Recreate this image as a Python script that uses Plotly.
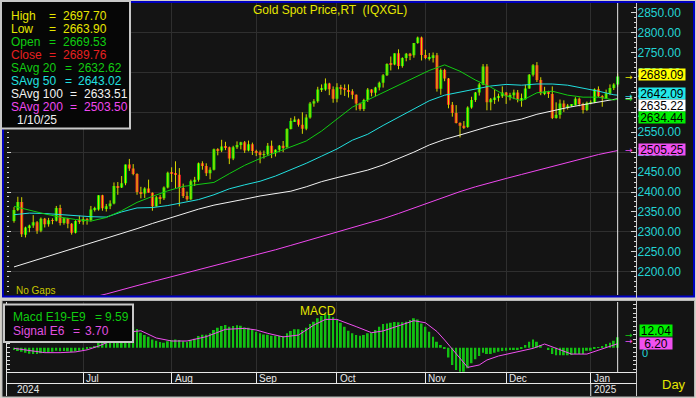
import plotly.graph_objects as go
import pandas as pd

W, H = 696, 398
FONT = "Liberation Sans, Arial, sans-serif"

# ---------------- data ----------------
dates = pd.bdate_range("2024-06-05", "2025-01-10")

opens = [2327, 2355, 2375, 2293, 2311, 2316, 2324, 2303, 2333, 2319, 2329, 2328, 2360, 2322, 2334, 2320, 2298, 2327,
         2326, 2332, 2330, 2356, 2356, 2392, 2359, 2364, 2371, 2415, 2411, 2422, 2469, 2459, 2445, 2400, 2396, 2409, 2398, 2364, 2387, 2384, 2411,
         2448, 2446, 2443, 2410, 2390, 2382, 2427, 2431, 2472, 2465, 2447, 2456, 2507, 2504, 2514, 2512, 2484, 2512, 2518, 2525, 2504, 2520,
         2503, 2500, 2493, 2495, 2516, 2497, 2506, 2516, 2512, 2558, 2578, 2582, 2569, 2559, 2587, 2622, 2628, 2657, 2657, 2672, 2658,
         2634, 2663, 2659, 2656, 2653, 2644, 2622, 2608, 2631, 2657, 2649, 2662, 2674, 2693, 2721, 2720, 2748, 2716, 2736, 2747, 2743, 2774, 2788,
         2744, 2736, 2736, 2743, 2659, 2706, 2685, 2619, 2598, 2573, 2566, 2563, 2612, 2631, 2650, 2670, 2715, 2625, 2633, 2637, 2640,
         2650, 2640, 2643, 2650, 2632, 2633, 2660, 2694, 2718, 2681, 2648, 2652, 2646, 2586, 2594, 2622, 2612, 2617, 2618, 2634, 2621, 2606,
         2624, 2625, 2658, 2640, 2636, 2648, 2661, 2669.53]

highs = [2362, 2388, 2387, 2313, 2318, 2342, 2327, 2336, 2335, 2335, 2334, 2365, 2368, 2335, 2335, 2322, 2329, 2340,
         2338, 2335, 2365, 2363, 2392, 2393, 2370, 2379, 2424, 2425, 2440, 2469, 2483, 2470, 2447, 2413, 2412, 2431, 2399, 2390, 2393, 2414, 2451,
         2462, 2477, 2460, 2421, 2401, 2431, 2438, 2474, 2477, 2472, 2462, 2509, 2510, 2531, 2526, 2514, 2516, 2527, 2526, 2528, 2529, 2524,
         2506, 2504, 2504, 2523, 2529, 2507, 2518, 2528, 2560, 2586, 2590, 2584, 2600, 2595, 2626, 2633, 2664, 2670, 2685, 2674, 2665,
         2673, 2669, 2670, 2670, 2658, 2645, 2624, 2634, 2661, 2658, 2664, 2677, 2696, 2723, 2740, 2748, 2758, 2738, 2749, 2749, 2774, 2790, 2790,
         2757, 2749, 2750, 2749, 2710, 2709, 2686, 2626, 2618, 2575, 2578, 2615, 2639, 2651, 2674, 2721, 2721, 2636, 2657, 2647, 2665,
         2651, 2649, 2657, 2656, 2647, 2669, 2696, 2721, 2726, 2688, 2664, 2654, 2665, 2625, 2632, 2630, 2621, 2620, 2638, 2637, 2624, 2627,
         2630, 2660, 2665, 2643, 2657, 2670, 2673, 2697.70]

lows = [2323, 2352, 2287, 2286, 2299, 2310, 2295, 2299, 2311, 2313, 2319, 2326, 2316, 2318, 2309, 2293, 2296, 2320,
        2318, 2318, 2326, 2351, 2353, 2353, 2351, 2357, 2369, 2393, 2410, 2417, 2453, 2442, 2393, 2384, 2385, 2398, 2353, 2363, 2370, 2380, 2409,
        2425, 2410, 2364, 2385, 2378, 2380, 2415, 2426, 2456, 2440, 2432, 2454, 2492, 2500, 2505, 2470, 2480, 2508, 2507, 2498, 2502, 2493,
        2490, 2472, 2484, 2491, 2485, 2489, 2500, 2500, 2511, 2557, 2576, 2564, 2546, 2555, 2584, 2614, 2624, 2651, 2654, 2643, 2624,
        2625, 2644, 2641, 2637, 2633, 2605, 2604, 2603, 2626, 2640, 2640, 2655, 2662, 2691, 2705, 2718, 2708, 2712, 2728, 2731, 2737, 2772, 2730,
        2733, 2730, 2725, 2652, 2644, 2678, 2610, 2589, 2572, 2537, 2558, 2561, 2609, 2626, 2642, 2668, 2605, 2605, 2621, 2627, 2636,
        2621, 2630, 2633, 2625, 2614, 2632, 2659, 2690, 2676, 2643, 2643, 2636, 2583, 2584, 2584, 2601, 2607, 2614, 2617, 2615, 2597, 2603,
        2620, 2623, 2638, 2614, 2633, 2643, 2656, 2663.90]

closes = [2355, 2375, 2294, 2311, 2316, 2324, 2303, 2333, 2319, 2329, 2328, 2360, 2322, 2334, 2320, 2298, 2327, 2326,
          2332, 2330, 2356, 2356, 2392, 2359, 2364, 2371, 2415, 2411, 2422, 2469, 2459, 2445, 2400, 2396, 2409, 2398, 2364, 2387, 2384, 2411, 2448,
          2446, 2443, 2410, 2390, 2382, 2427, 2431, 2472, 2465, 2447, 2456, 2507, 2504, 2514, 2512, 2484, 2512, 2518, 2525, 2504, 2520, 2503,
          2500, 2493, 2495, 2516, 2497, 2506, 2516, 2512, 2558, 2578, 2582, 2569, 2559, 2587, 2622, 2628, 2657, 2657, 2672, 2658, 2634,
          2663, 2659, 2656, 2653, 2644, 2622, 2608, 2631, 2657, 2649, 2662, 2674, 2693, 2721, 2720, 2748, 2716, 2736, 2747, 2743, 2774, 2788, 2744,
          2736, 2736, 2743, 2659, 2706, 2685, 2619, 2598, 2573, 2566, 2563, 2612, 2631, 2650, 2670, 2715, 2625, 2633, 2637, 2640, 2650,
          2640, 2643, 2650, 2632, 2633, 2660, 2694, 2718, 2681, 2648, 2652, 2646, 2586, 2594, 2622, 2612, 2617, 2618, 2634, 2621, 2606, 2624,
          2625, 2658, 2640, 2636, 2648, 2661, 2670, 2689.76]

ma_idx = [0, 4, 8, 12, 16, 20, 24, 28, 32, 36, 40, 44, 48, 52, 56, 60, 64, 68, 72, 76, 80,
          84, 88, 92, 96, 100, 104, 108, 112, 116, 120, 124, 128, 132, 136, 140, 144, 148, 152, 156, 157]
sma20 = [2364, 2354, 2345, 2337, 2331, 2327, 2336, 2353, 2374, 2389, 2403, 2414, 2419, 2424, 2446, 2467, 2484, 2499, 2513, 2528, 2553,
         2583, 2613, 2631, 2650, 2667, 2686, 2705, 2719, 2703, 2681, 2663, 2641, 2629, 2649, 2653, 2643, 2638, 2638, 2631, 2633]
sma50 = [2343, 2347, 2346, 2343, 2340, 2338, 2337, 2350, 2360, 2361, 2366, 2374, 2381, 2393, 2408, 2418, 2427, 2440, 2455, 2472, 2490,
         2508, 2530, 2545, 2567, 2588, 2609, 2629, 2643, 2651, 2659, 2666, 2670, 2668, 2671, 2671, 2668, 2661, 2653, 2644, 2643]
sma100 = [2212, 2224, 2236, 2247, 2259, 2271, 2283, 2295, 2308, 2321, 2333, 2345, 2357, 2367, 2374, 2382, 2390, 2396, 2402, 2413, 2426,
          2436, 2446, 2455, 2468, 2483, 2500, 2518, 2532, 2543, 2554, 2566, 2575, 2583, 2595, 2604, 2612, 2619, 2626, 2632, 2634]
sma200 = [2086, 2096, 2106, 2116, 2125, 2135, 2144, 2155, 2165, 2175, 2185, 2194, 2204, 2214, 2224, 2234, 2244, 2255, 2266, 2277, 2288,
          2299, 2310, 2322, 2333, 2346, 2360, 2374, 2388, 2401, 2413, 2424, 2434, 2444, 2454, 2464, 2474, 2485, 2494, 2502, 2504]

macd_hist = [-2.2, -3.1, -3.7, -4.6, -5.6, -5.9, -5.9, -5.2, -4.6, -4.3,
             -3.7, -2.8, -3.4, -3.1, -3.4, -4.0, -3.4, -2.8, -2.2, -1.5,
             0.3, 1.5, 4.6, 5.9, 7.1, 8.3, 10.8, 12.3, 13.9, 17.0,
             18.8, 19.4, 17.3, 13.9, 11.7, 10.2, 7.7, 6.5, 5.2, 4.6,
             5.9, 7.1, 7.7, 7.1, 5.9, 5.2, 7.1, 8.3, 10.8, 12.0,
             12.0, 13.3, 16.4, 18.5, 20.0, 21.0, 19.4, 20.0, 20.7, 20.4,
             18.8, 18.5, 17.0, 14.8, 13.3, 12.3, 12.0, 11.1, 11.1, 10.8,
             10.8, 13.3, 15.4, 17.0, 17.0, 16.4, 18.5, 21.9, 24.1, 27.2,
             29.3, 30.9, 30.2, 28.1, 25.6, 23.1, 19.4, 15.7, 13.3, 11.7,
             11.1, 11.7, 13.3, 13.9, 16.4, 19.4, 21.9, 22.5, 23.1, 23.8,
             23.5, 23.5, 24.1, 25.6, 27.2, 26.2, 22.5, 19.4, 14.8, 10.2,
             5.6, 2.5, -0.6, -9.0, -16.0, -20.7, -22.2, -22.2, -19.1, -14.5,
             -10.8, -7.7, -4.6, -5.9, -5.9, -4.6, -3.7, -3.1, -2.8, -2.2,
             -2.2, -2.2, -0.9, 2.5, 5.6, 7.7, 5.6, 2.5, 0.0, -2.2,
             -5.9, -7.1, -7.1, -7.1, -7.1, -6.8, -5.9, -5.9, -5.9, -2.8,
             -2.8, -0.6, 0.3, 1.5, 3.4, 4.6, 6.5, 9.6]

signal_idx = [0, 4, 8, 12, 16, 19, 22, 26, 30, 33, 37, 41, 45, 50, 55, 60, 63, 66, 70, 74,
              78, 81, 84, 89, 93, 96, 100, 104, 107, 110, 112, 115, 118, 121, 123, 126, 131, 135, 138, 142,
              145, 149, 152, 155, 157]
signal_val = [-0.6, -2.8, -4.6, -4.6, -3.9, -2.0, 1.5, 7.5, 14.5, 15.7, 9.0, 6.2, 6.2, 10.2, 17.0, 17.9, 16.4, 13.3, 10.0, 11.7,
              21.0, 26.2, 26.2, 19.5, 13.9, 15.5, 20.5, 25.0, 23.1, 15.0, 7.1, -5.2, -18.2, -16.0, -11.4, -7.7, -3.7, -0.6, 3.4, -2.2,
              -5.9, -5.9, -2.2, 0.9, 3.7]

price_ticks = [2200, 2250, 2300, 2350, 2400, 2450, 2500, 2550, 2600, 2650, 2700, 2750, 2800, 2850]
grid_prices = [2200, 2300, 2400, 2500, 2600, 2700, 2800]

legend_rows = [("High", "2697.70"), ("Low", "2663.90"), ("Open", "2669.53"), ("Close", "2689.76"),
               ("SAvg 20", "2632.62"), ("SAvg 50", "2643.02"), ("SAvg 100", "2633.51"), ("SAvg 200", "2503.50")]
cursor_date = "1/10/25"
last_labels = [("2689.09", 2689.09), ("2642.09", 2642.09), ("2635.22", 2635.22), ("2634.44", 2634.44), ("2505.25", 2505.25)]
macd_labels = [("12.04", 12.04), ("6.20", 6.20)]

# ---------------- colours ----------------
BG = "#141414"
GRID = "#2f2f2f"
UP = "#00e400"
DOWN = "#f02222"
WICK = "#d8d800"
C20 = "#12cc12"
C50 = "#22e0e0"
C100 = "#f2f2f2"
C200 = "#f048f0"
YEL = "#e6e600"
CYAN_T = "#22d4d4"
BLUE = "#0000c0"
CHROME = "#d4d0c8"

n = len(closes)
idx = list(range(n))
month_starts = [i for i in range(1, n) if dates[i].month != dates[i - 1].month]
month_names = [dates[i].strftime("%b") for i in month_starts]

XL, XR = 7 / W, 636.5 / W
XMIN, XMAX = -1.82, 161.9
YMAIN = [2141.5, 2874.3]
YMACD = [-22.5, 42.31]


def py(p):
    return 1 - p / H


fig = go.Figure()

# wicks
wx, wy = [], []
for i in idx:
    wx += [i, i, None]
    wy += [lows[i], highs[i], None]
fig.add_trace(go.Scatter(x=wx, y=wy, mode="lines", line=dict(color=WICK, width=1),
                         hoverinfo="skip", showlegend=False))
# bodies
bases = [min(o, c) for o, c in zip(opens, closes)]
heights = [max(abs(c - o), 1.5) for o, c in zip(opens, closes)]
cols = [UP if c >= o else DOWN for o, c in zip(opens, closes)]
fig.add_trace(go.Bar(x=idx, y=heights, base=bases, width=0.8,
                     marker=dict(color=cols, line=dict(width=0)), showlegend=False))

# moving averages
for vals, col in [(sma200, C200), (sma100, C100), (sma50, C50), (sma20, C20)]:
    fig.add_trace(go.Scatter(x=ma_idx, y=vals, mode="lines", line=dict(color=col, width=1),
                             showlegend=False, hoverinfo="skip"))

# MACD
fig.add_trace(go.Bar(x=idx, y=macd_hist, width=0.5, marker=dict(color="#12c012", line=dict(width=0)),
                     xaxis="x2", yaxis="y2", showlegend=False))
fig.add_trace(go.Scatter(x=signal_idx, y=signal_val, mode="lines", line=dict(color="#f050f0", width=1),
                         xaxis="x2", yaxis="y2", showlegend=False))

# invisible traces so the overlay axes are drawn
fig.add_trace(go.Scatter(x=[None], y=[None], xaxis="x", yaxis="y3", showlegend=False))
fig.add_trace(go.Scatter(x=[None], y=[None], xaxis="x2", yaxis="y4", showlegend=False))

shapes = []


def rect(x0, y0, x1, y1, fill, line, lw, layer="below"):
    shapes.append(dict(type="rect", xref="paper", yref="paper", x0=x0 / W, x1=x1 / W,
                       y0=py(y1), y1=py(y0), fillcolor=fill,
                       line=dict(color=line, width=lw), layer=layer))


def pline(x0, y0, x1, y1, color, lw=1, layer="above"):
    shapes.append(dict(type="line", xref="paper", yref="paper", x0=x0 / W, x1=x1 / W,
                       y0=py(y0), y1=py(y1), line=dict(color=color, width=lw), layer=layer))


rect(3, 2, 694, 296.5, BG, BLUE, 2)
rect(2, 300.5, 694.5, 397, BG, "#b8b8b8", 1)
pline(6.5, 372, 6.5, 396, "#e0e0e0")
pline(636.5, 3, 636.5, 396, "#c8c8c8")
pline(7, 383.5, 636.5, 383.5, "#e8e8e8")
# legend boxes
rect(1, 1, 130, 128.5, "#060606", "#c8c8c8", 2, layer="above")
rect(4, 304.5, 133, 342, "#060606", "#c8c8c8", 2, layer="above")
# year separator extension
shapes.append(dict(type="line", xref="x2", yref="paper", x0=month_starts[-1], x1=month_starts[-1],
                   y0=py(396), y1=py(383.5), line=dict(color="#e8e8e8", width=1)))
# cursor lines
shapes.append(dict(type="line", xref="x", yref="paper", x0=n - 1, x1=n - 1,
                   y0=py(295), y1=py(3), line=dict(color="#e8e8e8", width=1)))
shapes.append(dict(type="line", xref="x2", yref="paper", x0=n - 1, x1=n - 1,
                   y0=py(372), y1=py(302), line=dict(color="#e8e8e8", width=1)))

ann = []


def text(t, x, y, color, size=12, xanchor="left", **kw):
    d = dict(text=t, x=x / W, y=py(y), xref="paper", yref="paper", showarrow=False,
             font=dict(color=color, size=size, family=FONT), xanchor=xanchor, yanchor="middle")
    d.update(kw)
    ann.append(d)


# legend
row_cols = [YEL, YEL, "#10cc10", "#e62020", C20, C50, C100, C200]
eq_x = [47, 47, 47, 47, 63, 63, 68, 68]
val_x = [61, 61, 61, 61, 76, 76, 82, 82]
for k, (lab, val) in enumerate(legend_rows):
    yy = 15.7 + 13.0 * k
    text(lab, 9, yy, row_cols[k])
    text("=", eq_x[k], yy, row_cols[k])
    text(val, val_x[k], yy, row_cols[k])
text(cursor_date, 15, 119.7, "#f0f0f0")

text("Gold Spot Price,RT  (IQXGL)", 330, 10, YEL, xanchor="center")
text("No Gaps", 14, 290.5, "#c8c800", size=10)
text("MACD", 318, 310.5, YEL, size=12, xanchor="center")
text("Macd E19-E9", 11, 317.3, "#10cc10")
text("=", 93, 317.3, "#10cc10")
text("9.59", 103, 317.3, "#10cc10")
text("Signal E6", 11, 330.7, "#e050e0")
text("=", 71, 330.7, "#e050e0")
text("3.70", 83, 330.7, "#e050e0")
text("2024", 15, 389.5, "#e8e8e8", size=10)
text("2025", 592, 389.5, "#e8e8e8", size=10)
text("Day", 660, 384, YEL, size=13)

for ms, nm in zip(month_starts, month_names):
    ann.append(dict(text=nm, x=ms, y=py(378), xref="x2", yref="paper", showarrow=False,
                    xanchor="left", yanchor="middle", xshift=1,
                    font=dict(color="#e8e8e8", size=10, family=FONT)))

# zero label of the MACD scale (partly hidden by the signal box)
ann.append(dict(text="0", x=640 / W, xref="paper", y=0, yref="y2", yshift=-5, showarrow=False,
                xanchor="left", yanchor="middle", font=dict(color=CYAN_T, size=11, family=FONT)))

# right side value boxes
box_bg = [("#ffff00", "#000000"), ("#22e8e8", "#000000"), ("#ffffff", "#000000"),
          ("#00ee00", "#000000"), ("#f050f0", "#000000")]
shifts = [1.8, 1.7, -7.5, -18.7, 0.8]
arrow_cols = [YEL, C50, C100, C20, C200]
for (t, v), (bg, fg), s, ac in zip(last_labels, box_bg, shifts, arrow_cols):
    ann.append(dict(text=t, x=638 / W, xref="paper", y=v, yref="y", yshift=s, showarrow=False,
                    xanchor="left", yanchor="middle", bgcolor=bg, borderpad=0, width=46, height=11,
                    font=dict(color=fg, size=12, family=FONT)))
    ann.append(dict(text="→", x=629 / W, xref="paper", y=v, yref="y", showarrow=False,
                    xanchor="center", yanchor="middle",
                    font=dict(color=ac, size=9, family="DejaVu Sans")))

for (t, v), bg, s, ac in zip(macd_labels, ["#00ee00", "#f050f0"], [3.7, -2.0], ["#10cc10", "#f050f0"]):
    ann.append(dict(text=t, x=638.5 / W, xref="paper", y=v, yref="y2", yshift=s, showarrow=False,
                    xanchor="left", yanchor="middle", bgcolor=bg, borderpad=0, width=32, height=11,
                    font=dict(color="#000000", size=12, family=FONT)))
    ann.append(dict(text="→", x=629 / W, xref="paper", y=v, yref="y2", showarrow=False,
                    xanchor="center", yanchor="middle",
                    font=dict(color=ac, size=9, family="DejaVu Sans")))

fig.update_layout(
    width=W, height=H, margin=dict(l=0, r=0, t=0, b=0),
    paper_bgcolor=CHROME, plot_bgcolor="rgba(0,0,0,0)",
    showlegend=False, barmode="overlay", hovermode=False,
    font=dict(family=FONT),
    xaxis=dict(domain=[XL, XR], range=[XMIN, XMAX], anchor="y", tickmode="array", tickvals=month_starts,
               showticklabels=False, ticks="", showgrid=True, gridcolor=GRID, gridwidth=1,
               zeroline=False, showline=False),
    yaxis=dict(domain=[py(295), py(3)], range=YMAIN, anchor="x", side="right",
               tickmode="array", tickvals=price_ticks, ticktext=[f"{v:.2f}" for v in price_ticks],
               ticks="inside", ticklen=6, tickcolor="#d8d8d8",
               tickfont=dict(color=CYAN_T, size=12, family=FONT),
               showgrid=False, zeroline=False, showline=False,
               minor=dict(tickmode="linear", tick0=2200, dtick=12.5, ticks="inside", ticklen=3,
                          tickcolor="#d8d8d8", showgrid=False)),
    yaxis3=dict(overlaying="y", anchor="x", side="left", range=YMAIN, tickmode="array",
                tickvals=grid_prices, showticklabels=False, showgrid=True, gridcolor=GRID, gridwidth=1,
                ticks="inside", ticklen=4, tickcolor="#cfcfcf", zeroline=False, showline=False,
                minor=dict(tickmode="linear", tick0=2200, dtick=12.5, ticks="inside", ticklen=2,
                           tickcolor="#cfcfcf", showgrid=False)),
    xaxis2=dict(domain=[XL, XR], range=[XMIN, XMAX], anchor="y2", tickmode="array", tickvals=month_starts,
                showticklabels=False, ticks="outside", ticklen=11, tickwidth=1, tickcolor="#e8e8e8",
                showgrid=True, gridcolor=GRID, gridwidth=1, zeroline=False,
                showline=True, linecolor="#e8e8e8", linewidth=1),
    yaxis2=dict(domain=[py(372), py(302)], range=YMACD, anchor="x2", side="right",
                tickmode="linear", tick0=0, dtick=4, ticks="inside", ticklen=4, tickcolor="#d8d8d8",
                showticklabels=False, showgrid=False, zeroline=False, showline=False),
    yaxis4=dict(overlaying="y2", anchor="x2", side="left", range=YMACD,
                tickmode="linear", tick0=0, dtick=4, ticks="inside", ticklen=3, tickcolor="#e0e0e0",
                showticklabels=False, showgrid=False, zeroline=False,
                showline=True, linecolor="#e0e0e0", linewidth=1),
    shapes=shapes, annotations=ann,
)

fig.write_html("out.html", config={"displayModeBar": False},
               post_script="document.body.style.margin='0px';document.body.style.padding='0px';")
